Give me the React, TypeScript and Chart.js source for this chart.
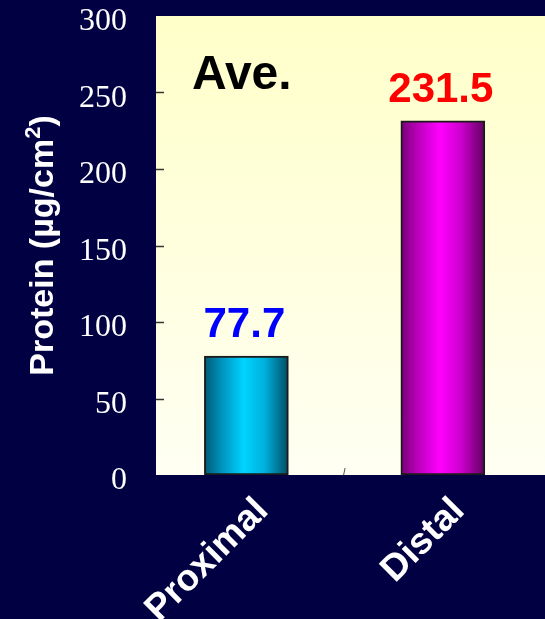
import React, { useEffect, useRef } from "react";
import { Chart, registerables } from "chart.js";

Chart.register(...registerables);

// Data
const categories = ["Proximal", "Distal"];
const proteinValues = [77.7, 231.5];
const valueLabelColors = ["#0000ff", "#ff0000"];
const barGradientStops = [0, 0.22, 0.47, 0.72, 1];
const barGradientColors = [
  ["#005a76", "#0096c2", "#00d4ff", "#00b0dc", "#004c64"],
  ["#780078", "#c000c0", "#ff00ff", "#cc00cc", "#600060"],
];
const yMin = 0;
const yMax = 300;
const yStep = 50;
const panelTitle = "Ave.";
const yTitleMain = "Protein (\u00b5g/cm";
const yTitleSup = "2";
const yTitleEnd = ")";

const NAVY = "#000042";
const SANS = "'Liberation Sans', Arial, sans-serif";
const SERIF = "'Liberation Serif', 'Times New Roman', serif";

const decorations = {
  id: "decorations",
  beforeDraw(chart: any) {
    const { ctx, chartArea: a, width, height } = chart;
    ctx.save();
    ctx.fillStyle = NAVY;
    ctx.fillRect(0, 0, width, height);
    const g = ctx.createLinearGradient(0, a.top, 0, a.bottom);
    g.addColorStop(0, "#ffffc9");
    g.addColorStop(1, "#fffff3");
    ctx.fillStyle = g;
    ctx.fillRect(a.left, a.top, width - a.left, a.bottom - a.top);

    // inward tick marks on the value axis
    const ys = chart.scales.y;
    ctx.strokeStyle = "#333333";
    ctx.lineWidth = 1.5;
    for (let v = yMin + yStep; v < yMax; v += yStep) {
      const py = Math.round(ys.getPixelForValue(v)) + 0.5;
      ctx.beginPath();
      ctx.moveTo(a.left, py);
      ctx.lineTo(a.left + 8, py);
      ctx.stroke();
    }
    // small divider tick between the two categories
    const xs = chart.scales.x;
    const mx = xs.getPixelForValue(0.5);
    ctx.strokeStyle = "#555555";
    ctx.lineWidth = 1;
    ctx.beginPath();
    ctx.moveTo(mx - 1, a.bottom);
    ctx.lineTo(mx + 0.5, a.bottom - 7);
    ctx.stroke();
    ctx.restore();
  },
  afterDatasetsDraw(chart: any) {
    const { ctx, chartArea: a } = chart;
    const xs = chart.scales.x;
    const ys = chart.scales.y;
    ctx.save();

    // panel title
    ctx.fillStyle = "#000000";
    ctx.font = `bold 48px ${SANS}`;
    ctx.textAlign = "left";
    ctx.textBaseline = "alphabetic";
    ctx.fillText(panelTitle, a.left + 36, a.top + 73);

    // value labels above bars
    ctx.font = `bold 42px ${SANS}`;
    ctx.textAlign = "center";
    proteinValues.forEach((v, i) => {
      const px = xs.getPixelForValue(i);
      const py = ys.getPixelForValue(v);
      ctx.fillStyle = valueLabelColors[i];
      ctx.fillText(v.toFixed(1), px - 2, py - 19);
    });

    // rotated category labels
    ctx.fillStyle = "#ffffff";
    ctx.font = `bold 37px ${SANS}`;
    ctx.textAlign = "right";
    ctx.textBaseline = "top";
    categories.forEach((c, i) => {
      const px = xs.getPixelForValue(i);
      ctx.save();
      ctx.translate(px + 3, a.bottom + 17);
      ctx.rotate(-Math.PI / 4);
      ctx.fillText(c, 0, 0);
      ctx.restore();
    });

    // vertical axis title with superscript
    ctx.save();
    ctx.translate(53, (a.top + a.bottom) / 2);
    ctx.rotate(-Math.PI / 2);
    ctx.textAlign = "left";
    ctx.textBaseline = "alphabetic";
    const mainFont = `bold 34px ${SANS}`;
    const supFont = `bold 22px ${SANS}`;
    ctx.font = mainFont;
    const w1 = ctx.measureText(yTitleMain).width;
    const w3 = ctx.measureText(yTitleEnd).width;
    ctx.font = supFont;
    const w2 = ctx.measureText(yTitleSup).width;
    let x0 = -(w1 + w2 + w3) / 2;
    ctx.font = mainFont;
    ctx.fillText(yTitleMain, x0, 0);
    x0 += w1;
    ctx.font = supFont;
    ctx.fillText(yTitleSup, x0, -13);
    x0 += w2;
    ctx.font = mainFont;
    ctx.fillText(yTitleEnd, x0, 0);
    ctx.restore();

    ctx.restore();
  },
};

function barFill(context: any) {
  const chart = context.chart;
  const i = context.dataIndex ?? 0;
  const colors = barGradientColors[i % barGradientColors.length];
  const xs = chart.scales?.x;
  if (!chart.chartArea || !xs) return colors[2];
  const cx = xs.getPixelForValue(i);
  const g = chart.ctx.createLinearGradient(cx - 42, 0, cx + 42, 0);
  barGradientStops.forEach((s, k) => g.addColorStop(s, colors[k]));
  return g;
}

export default function App() {
  const canvasRef = useRef<HTMLCanvasElement | null>(null);

  useEffect(() => {
    const canvas = canvasRef.current;
    if (!canvas) return;
    const chart = new Chart(canvas, {
      type: "bar",
      data: {
        datasets: [
          {
            data: proteinValues.map((v, i) => ({ x: i, y: v })),
            backgroundColor: barFill,
            borderColor: "#1a1a1a",
            borderWidth: 2,
            borderSkipped: false,
            barThickness: 84,
          },
        ],
      },
      options: {
        animation: false,
        responsive: false,
        events: [],
        layout: { padding: { top: 16, bottom: 144, left: 0, right: 0 } },
        plugins: {
          legend: { display: false },
          tooltip: { enabled: false },
          title: { display: false },
        },
        scales: {
          x: {
            type: "linear",
            display: false,
            offset: false,
            min: -0.46,
            max: 1.52,
          },
          y: {
            min: yMin,
            max: yMax,
            grid: { display: false },
            border: { display: false },
            ticks: {
              stepSize: yStep,
              color: "#ffffff",
              padding: 21,
              labelOffset: 6,
              font: { family: SERIF, size: 32 },
            },
            afterFit(scale: any) {
              scale.width = 156;
              scale.paddingTop = 0;
              scale.paddingBottom = 0;
            },
          },
        },
      },
      plugins: [decorations],
    });
    return () => chart.destroy();
  }, []);

  return (
    <div style={{ position: "absolute", left: 0, top: 0, width: 545, height: 619, background: NAVY }}>
      <canvas ref={canvasRef} width={545} height={619} style={{ display: "block" }} />
    </div>
  );
}
